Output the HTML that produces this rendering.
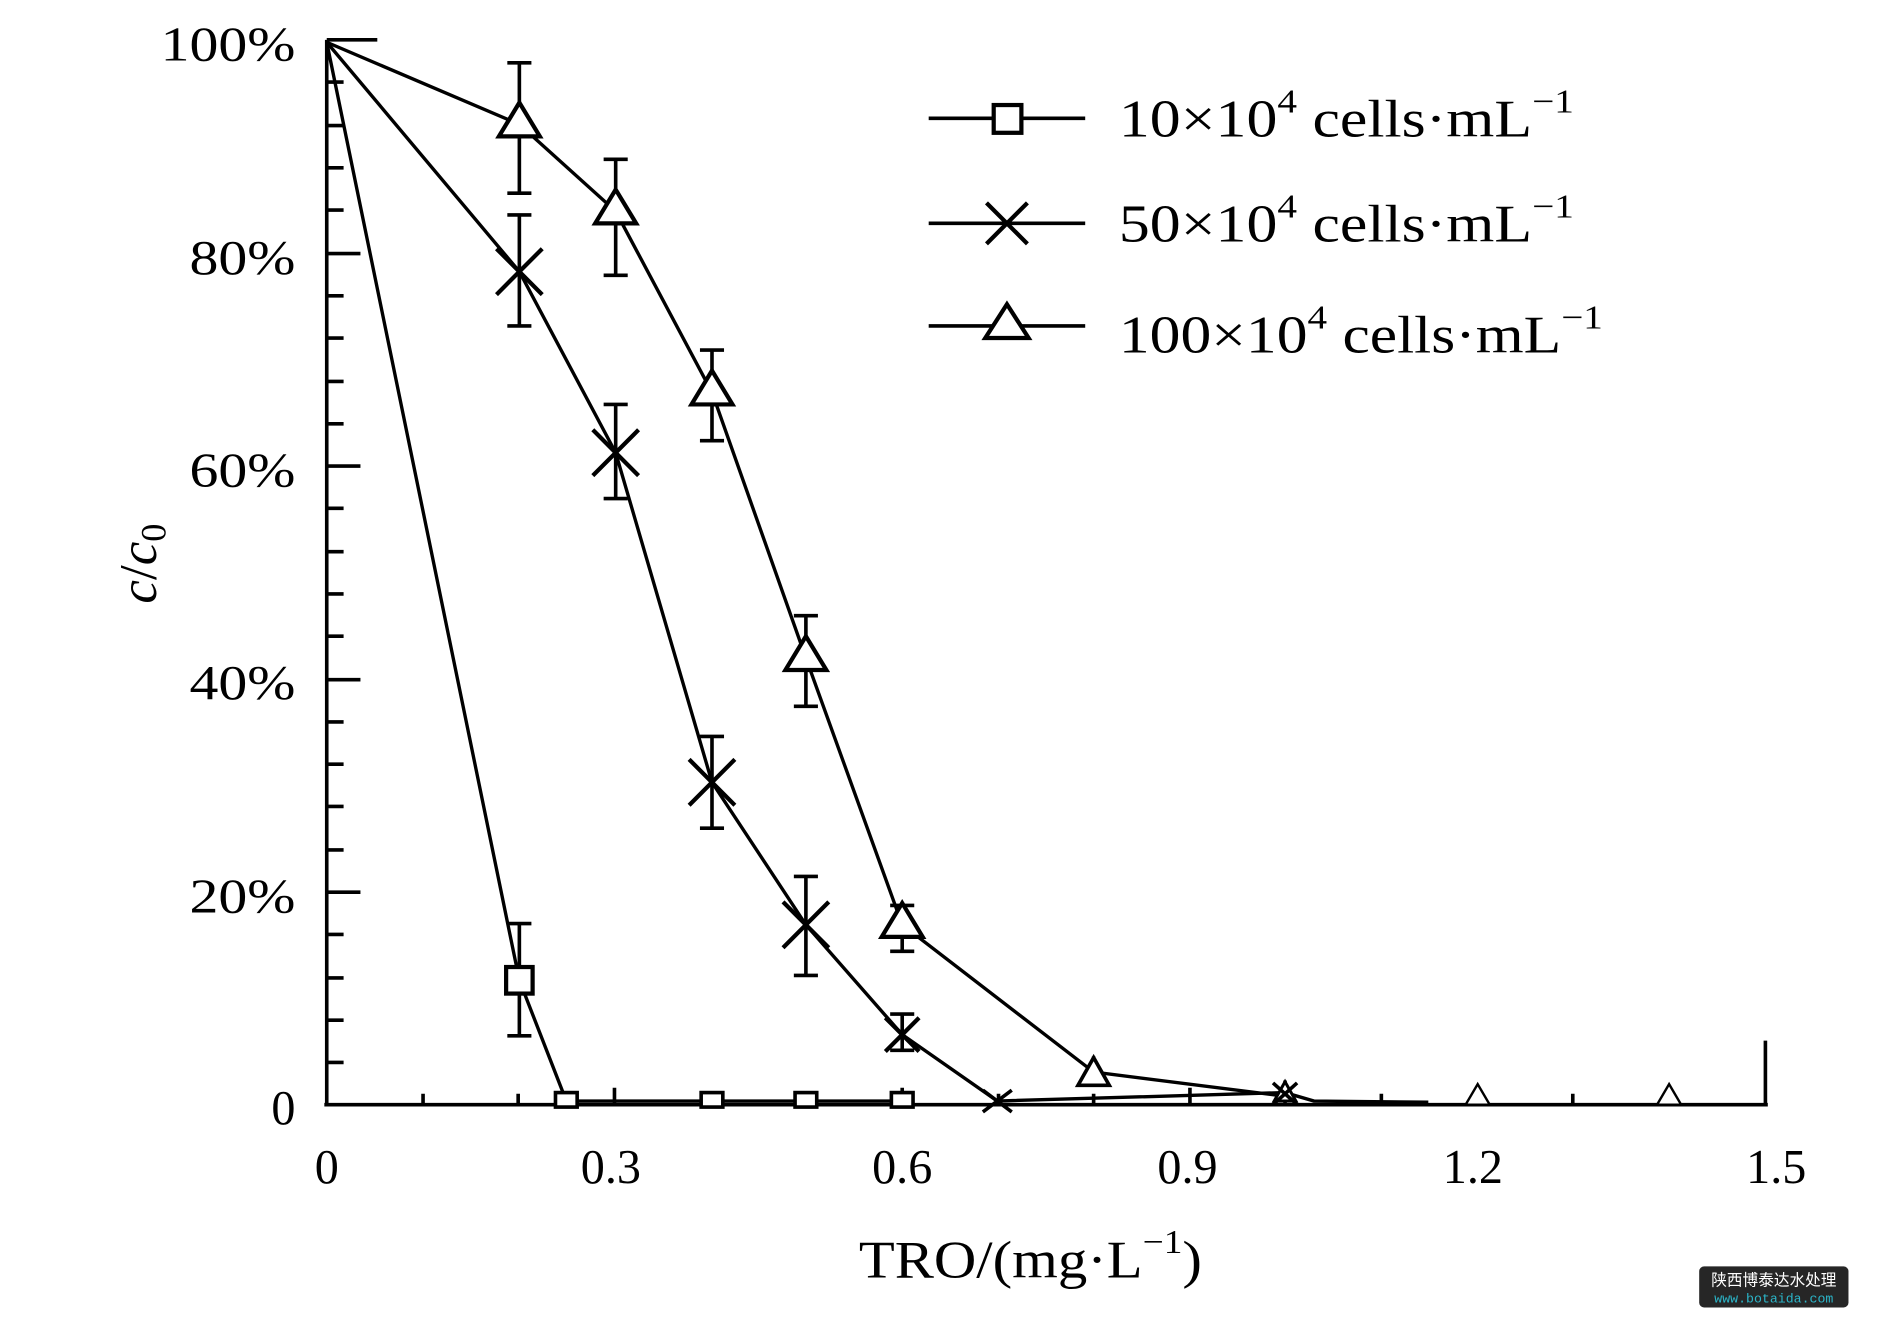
<!DOCTYPE html>
<html><head><meta charset="utf-8"><style>
html,body{margin:0;padding:0;background:#fff;width:1887px;height:1328px;overflow:hidden}
svg{display:block}
text{font-family:"Liberation Serif",serif;fill:#000}
</style></head><body>
<svg width="1887" height="1328" viewBox="-1.4 0 1567.4 1100" preserveAspectRatio="none" xmlns="http://www.w3.org/2000/svg">
<rect x="-10" width="1600" height="1100" fill="#fff"/>
<g stroke="#000" stroke-width="3" fill="none">
<line x1="270" y1="33" x2="270" y2="916"/>
<line x1="268" y1="915" x2="1467" y2="915"/>
<line x1="1465" y1="862" x2="1465" y2="916"/>
<line x1="270" y1="33" x2="312" y2="33"/>
<path d="M270 68h14M270 104h14M270 139h14M270 174h14M270 210h28M270 245h14M270 280h14M270 316h14M270 351h14M270 386h28M270 421h14M270 457h14M270 492h14M270 527h14M270 563h28M270 598h14M270 633h14M270 668h14M270 704h14M270 739h28M270 774h14M270 810h14M270 845h14M270 880h14"/>
<path d="M350 915v-9M429 915v-9M509 915v-14M589 915v-9M668 915v-9M748 915v-14M828 915v-9M907 915v-9M987 915v-14M1066 915v-9M1146 915v-9M1226 915v-14M1305 915v-9M1385 915v-9"/>
</g>
<g stroke="#000" stroke-width="2.8" fill="none">
<polyline points="270,35 430,812 469,912 590,912 668,912 748,912"/>
<polyline points="270,35 430,225 510,375 590,648 668,766 748,857 827,912 1066,905 1090,912 1185,913"/>
<polyline points="270,35 430,103 510,175 590,325 668,545 748,766 907,888 1066,908"/>
</g>
<g stroke="#000" stroke-width="3" fill="none">
<path d="M430 52v108M420 52h20M420 160h20"/>
<path d="M510 132v96M500 132h20M500 228h20"/>
<path d="M590 290v75M580 290h20M580 365h20"/>
<path d="M668 510v75M658 510h20M658 585h20"/>
<path d="M748 750v38M738 750h20M738 788h20"/>
<path d="M430 178v92M420 178h20M420 270h20"/>
<path d="M510 335v78M500 335h20M500 413h20"/>
<path d="M590 610v76M580 610h20M580 686h20"/>
<path d="M668 726v82M658 726h20M658 808h20"/>
<path d="M748 840v30M738 840h20M738 870h20"/>
<path d="M430 765v93M420 765h20M420 858h20"/>
<path d="M907 875v25M1066 895v15"/>
</g>
<g stroke="#000" stroke-width="3.5" fill="#fff">
<rect x="419" y="801" width="22" height="22"/>
<rect x="460" y="905" width="18" height="12" stroke-width="3"/>
<rect x="581" y="905" width="18" height="12" stroke-width="3"/>
<rect x="659" y="905" width="18" height="12" stroke-width="3"/>
<rect x="739" y="905" width="18" height="12" stroke-width="3"/>
<path d="M430 85 L447 113 L413 113Z"/>
<path d="M510 157 L527 185 L493 185Z"/>
<path d="M590 307 L607 335 L573 335Z"/>
<path d="M668 527 L685 555 L651 555Z"/>
<path d="M748 748 L765 776 L731 776Z"/>
<path d="M907 876 L920 899 L894 899Z" stroke-width="3"/>
<path d="M1066 896 L1075 912 L1057 912Z" stroke-width="2.5"/>
<path d="M1226 898 L1236 915 L1216 915Z" stroke-width="2"/>
<path d="M1385 898 L1395 915 L1375 915Z" stroke-width="2"/>
</g>
<g stroke="#000" stroke-width="3.5" fill="none">
<path d="M411 206L449 244M449 206L411 244"/>
<path d="M491 356L529 394M529 356L491 394"/>
<path d="M571 629L609 667M609 629L571 667"/>
<path d="M649 747L687 785M687 747L649 785"/>
<path d="M734 843L762 871M762 843L734 871"/>
<path d="M815 903L839 921M839 903L815 921" stroke-width="3"/>
<path d="M1056 897L1076 915M1076 897L1056 915" stroke-width="3"/>
</g>
<g stroke="#000" stroke-width="3" fill="#fff">
<line x1="770" y1="98" x2="900" y2="98"/>
<rect x="824" y="87" width="23" height="23" stroke-width="3.5"/>
<line x1="770" y1="185" x2="900" y2="185"/>
<path d="M818 168L852 202M852 168L818 202" stroke-width="3.5"/>
<line x1="770" y1="270" x2="900" y2="270"/>
<path d="M835 252L853 280L817 280Z" stroke-width="3.5"/>
</g>
<g font-size="44">
<text x="928" y="113" textLength="378" lengthAdjust="spacingAndGlyphs">10×10<tspan dy="-20" font-size="28">4</tspan><tspan dy="20"> cells·mL</tspan><tspan dy="-20" font-size="28">−1</tspan></text>
<text x="928" y="200" textLength="378" lengthAdjust="spacingAndGlyphs">50×10<tspan dy="-20" font-size="28">4</tspan><tspan dy="20"> cells·mL</tspan><tspan dy="-20" font-size="28">−1</tspan></text>
<text x="928" y="292" textLength="402" lengthAdjust="spacingAndGlyphs">100×10<tspan dy="-20" font-size="28">4</tspan><tspan dy="20"> cells·mL</tspan><tspan dy="-20" font-size="28">−1</tspan></text>
</g>
<g font-size="40" text-anchor="end">
<text x="244" y="50" textLength="112" lengthAdjust="spacingAndGlyphs">100%</text>
<text x="244" y="227" textLength="88" lengthAdjust="spacingAndGlyphs">80%</text>
<text x="244" y="403" textLength="88" lengthAdjust="spacingAndGlyphs">60%</text>
<text x="244" y="579" textLength="88" lengthAdjust="spacingAndGlyphs">40%</text>
<text x="244" y="756" textLength="88" lengthAdjust="spacingAndGlyphs">20%</text>
<text x="244" y="931">0</text>
</g>
<g font-size="40" text-anchor="middle">
<text x="270" y="980">0</text>
<text x="506" y="980">0.3</text>
<text x="748" y="980">0.6</text>
<text x="985" y="980">0.9</text>
<text x="1222" y="980">1.2</text>
<text x="1474" y="980">1.5</text>
</g>
<text x="712" y="1058" font-size="44" textLength="285" lengthAdjust="spacingAndGlyphs">TRO/(mg·L<tspan dy="-20" font-size="28">−1</tspan><tspan dy="20">)</tspan></text>
<text transform="translate(128,500) rotate(-90)" font-size="44"><tspan font-style="italic">c</tspan>/<tspan font-style="italic">c</tspan><tspan font-size="30" dy="8">0</tspan></text>
<rect x="1410" y="1049" width="124" height="34" rx="4" fill="#262626"/>
<text x="1472" y="1065" font-size="13" text-anchor="middle" style="font-family:'Noto Sans CJK SC',sans-serif;fill:#fff">陕西博泰达水处理</text>
<text x="1472" y="1079" font-size="11" text-anchor="middle" style="font-family:'Liberation Mono',monospace;fill:#2bb5c8">www.botaida.com</text>
</svg>
</body></html>
